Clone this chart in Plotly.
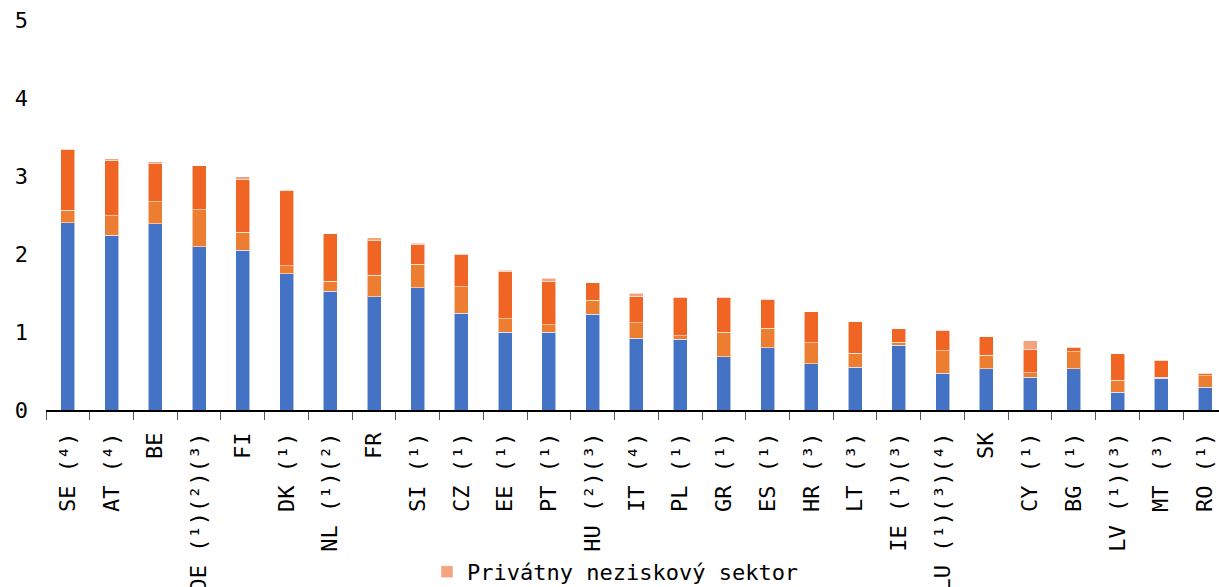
import plotly.graph_objects as go

# Country labels (in display order)
countries = [
    'SE (⁴)', 'AT (⁴)', 'BE', 'DE (¹)(²)(³)', 'FI', 'DK (¹)', 'NL (¹)(²)', 'FR',
    'SI (¹)', 'CZ (¹)', 'EE (¹)', 'PT (¹)', 'HU (²)(³)', 'IT (⁴)', 'PL (¹)',
    'GR (¹)', 'ES (¹)', 'HR (³)', 'LT (³)', 'IE (¹)(³)', 'LU (¹)(³)(⁴)', 'SK',
    'CY (¹)', 'BG (¹)', 'LV (¹)(³)', 'MT (³)', 'RO (¹)',
]

# Sector values (% of GDP)
podnikatelsky = [2.40, 2.24, 2.39, 2.09, 2.05, 1.75, 1.52, 1.45, 1.57, 1.24, 1.00, 1.00, 1.23, 0.92,
                 0.91, 0.68, 0.80, 0.59, 0.55, 0.83, 0.47, 0.53, 0.42, 0.53, 0.23, 0.41, 0.29]
vladny = [0.16, 0.25, 0.28, 0.48, 0.23, 0.10, 0.13, 0.28, 0.30, 0.34, 0.17, 0.09, 0.18, 0.20,
          0.04, 0.32, 0.25, 0.27, 0.18, 0.04, 0.29, 0.17, 0.06, 0.22, 0.15, 0.01, 0.15]
vysokoskolsky = [0.78, 0.71, 0.49, 0.56, 0.68, 0.97, 0.61, 0.44, 0.25, 0.41, 0.60, 0.56, 0.22, 0.34,
                 0.49, 0.44, 0.37, 0.40, 0.40, 0.17, 0.26, 0.24, 0.30, 0.05, 0.34, 0.22, 0.03]
privatny = [0.0, 0.02, 0.02, 0.0, 0.03, 0.0, 0.0, 0.04, 0.02, 0.01, 0.02, 0.04, 0.0, 0.04,
            0.005, 0.01, 0.005, 0.0, 0.0, 0.0, 0.0, 0.0, 0.11, 0.005, 0.0, 0.0, 0.01]

BLUE = '#4472C4'
LIGHT_ORANGE = '#ED7D31'
DARK_ORANGE = '#F06424'
SALMON = '#F4A47D'

FONT = 'DejaVu Sans Mono'

series = [
    ('Podnikateľský sektor', podnikatelsky, BLUE, False),
    ('Vládny sektor', vladny, LIGHT_ORANGE, False),
    ('Sektor vysokých škôl', vysokoskolsky, DARK_ORANGE, False),
    ('Privátny neziskový sektor', privatny, SALMON, True),
]

fig = go.Figure()
for name, values, color, show in series:
    fig.add_trace(go.Bar(
        x=countries,
        y=values,
        name=name,
        marker=dict(color=color, line=dict(color='rgba(255,255,255,0.55)', width=1)),
        width=0.32,
        showlegend=show,
    ))

# autoexpand off: the legend sits at the very bottom and must not shrink the plot
fig.update_layout(
    barmode='stack',
    width=1219,
    height=587,
    margin=dict(l=46, r=0, t=20, b=177, autoexpand=False),
    plot_bgcolor='white',
    paper_bgcolor='white',
    font=dict(family=FONT, size=22, color='black'),
    legend=dict(orientation='h', x=0.4855, xanchor='center', y=-0.415, yanchor='middle',
                font=dict(family=FONT, size=22)),
)

fig.update_xaxes(
    range=[-0.5, 26.32], automargin=False,
    showline=True, linecolor='black', linewidth=1.5,
    ticks='outside', tickson='boundaries', ticklen=8, tickcolor='#555',
    tickangle=-90, showgrid=False, ticklabelstandoff=12,
    tickfont=dict(family=FONT, size=22),
)
fig.update_yaxes(
    range=[0, 5], dtick=1, showgrid=False, zeroline=False, showline=False,
    automargin=False, ticklabelstandoff=17, ticklabeloverflow='allow',
    tickfont=dict(family=FONT, size=22),
)

# drop the default body margin so the figure fills the window exactly
page_fix = ("document.body.style.margin = '0px';"
            "document.body.style.overflow = 'hidden';"
            "document.documentElement.style.overflow = 'hidden';")
fig.write_html("out.html", config={'displayModeBar': False}, post_script=page_fix)
